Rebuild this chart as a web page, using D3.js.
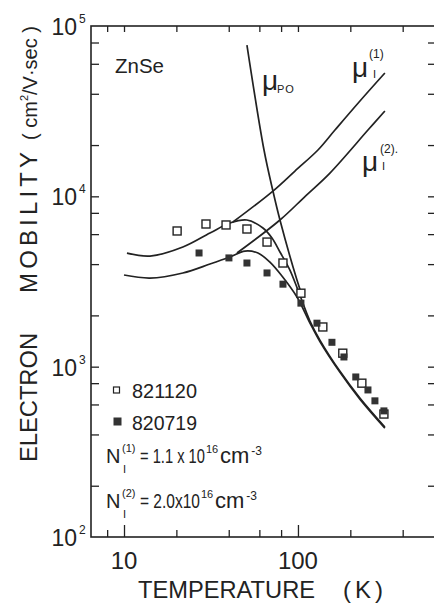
<!DOCTYPE html>
<html>
<head>
<meta charset="utf-8">
<script src="https://cdn.jsdelivr.net/npm/d3@7"></script>
<style>
  body { margin: 0; background: #fff; }
  svg { display: block; font-family: "Liberation Sans", Arial, sans-serif; }
  text { fill: #222; }
</style>
</head>
<body>
<svg id="chart" width="434" height="605"></svg>
<script>
/* global d3 */

// measured points, sample 821120 (open squares)
const tempOpen = [20.2, 29.6, 38.6, 50.9, 66.4, 82, 104, 139, 181, 233, 312];
const mobOpen = [6260, 6880, 6790, 6430, 5390, 4060, 2700, 1710, 1200, 800, 527];

// measured points, sample 820719 (filled squares)
const tempFilled = [27, 40.1, 50.9, 66.4, 82, 104, 128.6, 156.8, 183.8, 215, 252.6, 277, 312];
const mobFilled = [4650, 4350, 4060, 3550, 3050, 2360, 1800, 1390, 1140, 870, 730, 630, 550];

// calculated total mobility, N_I(1) and N_I(2)
const tempTotal1 = [10.4, 14.1, 21.8, 31.2, 40.6, 50.9, 62.9, 70.9, 78.8, 89.9, 100, 117.2, 133.7, 174, 227, 316];
const mobTotal1 = [4645, 4462, 5040, 6090, 6970, 7260, 6515, 5690, 4710, 3690, 2818, 1853, 1433, 942, 655, 442];
const tempTotal2 = [10, 14.1, 21.8, 31.2, 40.6, 49.6, 58.9, 69.0, 80.9, 98.7, 117.2, 133.7, 174, 227, 316];
const mobTotal2 = [3451, 3313, 3548, 4003, 4402, 4773, 4645, 4110, 3405, 2563, 1803, 1404, 929, 645, 436];

// ionized impurity and polar optical limits
const tempImp1 = [42.3, 71.8, 96.1, 130.3, 163.2, 227.2, 316];
const mobImp1 = [7065, 10740, 14080, 18700, 24500, 36270, 52960];
const tempImp2 = [44.6, 78.8, 109.7, 152.7, 252.6, 316];
const mobImp2 = [4645, 7260, 9972, 13700, 24500, 31690];
const tempPO = [50.9, 63.8, 71.8, 78.8, 98.7, 105.4];
const mobPO = [77300, 18700, 10740, 7260, 3224, 2633];

// ticks
const xTicks = [8, 10, 20, 40, 60, 80, 100, 200, 400];
const xMajor = [10, 100];
const xLabels = [10, 100];
const yTicks = [200, 400, 600, 800, 1000, 2000, 4000, 6000, 8000, 10000, 20000, 40000, 60000, 80000];
const yExponents = [2, 3, 4, 5];

const ink = '#222';
const svg = d3.select('#chart');

const x = d3.scaleLog().domain([6.46, 630]).range([91, 437]);
const y = d3.scaleLog().domain([100, 1e5]).range([537, 26]);

// frame
svg.append('rect')
  .attr('x', x.range()[0])
  .attr('y', y.range()[1])
  .attr('width', x.range()[1] - x.range()[0])
  .attr('height', y.range()[0] - y.range()[1])
  .attr('fill', 'none')
  .attr('stroke', ink)
  .attr('stroke-width', 1.6);

function styleTicks(g) {
  g.select('.domain').remove();
  g.selectAll('.tick line').attr('stroke', ink).attr('stroke-width', 1.3);
  g.selectAll('.tick text').remove();
}

svg.append('g')
  .attr('transform', `translate(${x.range()[0]},0)`)
  .call(d3.axisLeft(y).tickValues(yTicks).tickSize(-8))
  .call(styleTicks);

svg.append('g')
  .attr('transform', `translate(${x.range()[1]},0)`)
  .call(d3.axisRight(y).tickValues(yTicks).tickSize(-9))
  .call(styleTicks);

svg.append('g')
  .attr('transform', `translate(0,${y.range()[0]})`)
  .call(d3.axisBottom(x).tickValues(xTicks).tickSize(-7))
  .call(styleTicks)
  .selectAll('.tick line')
  .attr('y2', d => (xMajor.includes(d) ? -12 : -7));

svg.append('g')
  .attr('transform', `translate(0,${y.range()[1]})`)
  .call(d3.axisTop(x).tickValues(xTicks).tickSize(-6))
  .call(styleTicks);

// tick labels
svg.selectAll('.xlab')
  .data(xLabels)
  .enter()
  .append('text')
  .attr('class', 'xlab')
  .attr('x', d => x(d))
  .attr('y', 569)
  .attr('text-anchor', 'middle')
  .attr('font-size', 24)
  .text(d => d);

const ylab = svg.selectAll('.ylab')
  .data(yExponents)
  .enter()
  .append('g')
  .attr('class', 'ylab')
  .attr('transform', d => `translate(77,${y(10 ** d) + 9})`);
ylab.append('text')
  .attr('text-anchor', 'end')
  .attr('font-size', 23)
  .text('10');
ylab.append('text')
  .attr('x', 2)
  .attr('y', -12)
  .attr('font-size', 12)
  .text(d => d);

// axis titles
svg.append('text')
  .attr('x', 138).attr('y', 598)
  .attr('font-size', 24)
  .attr('textLength', 177).attr('lengthAdjust', 'spacingAndGlyphs')
  .text('TEMPERATURE');
svg.append('text')
  .attr('x', 343).attr('y', 598)
  .attr('font-size', 24)
  .attr('textLength', 40).attr('lengthAdjust', 'spacing')
  .text('( K )');

const ytitle = svg.append('g').attr('transform', 'translate(37,0) rotate(-90)');
ytitle.append('text')
  .attr('x', -462).attr('y', 0)
  .attr('font-size', 24)
  .attr('textLength', 129).attr('lengthAdjust', 'spacingAndGlyphs')
  .text('ELECTRON');
ytitle.append('text')
  .attr('x', -293).attr('y', 0)
  .attr('font-size', 24)
  .attr('textLength', 141).attr('lengthAdjust', 'spacing')
  .text('MOBILITY');
const unit = ytitle.append('text')
  .attr('x', -140).attr('y', 0)
  .attr('font-size', 20);
unit.append('tspan').text('( cm');
unit.append('tspan').attr('dy', -9).attr('font-size', 11).text('2');
unit.append('tspan').attr('dy', 9).text('/V·sec )');

// curves
const line = d3.line()
  .x(d => x(d[0]))
  .y(d => y(d[1]))
  .curve(d3.curveCatmullRom.alpha(0.5));

const curves = [
  d3.zip(tempTotal1, mobTotal1),
  d3.zip(tempTotal2, mobTotal2),
  d3.zip(tempImp1, mobImp1),
  d3.zip(tempImp2, mobImp2),
  d3.zip(tempPO, mobPO),
];

svg.selectAll('.curve')
  .data(curves)
  .enter()
  .append('path')
  .attr('class', 'curve')
  .attr('d', line)
  .attr('fill', 'none')
  .attr('stroke', ink)
  .attr('stroke-width', 1.7);

// data points
svg.selectAll('.open')
  .data(d3.zip(tempOpen, mobOpen))
  .enter()
  .append('rect')
  .attr('class', 'open')
  .attr('x', d => x(d[0]) - 4)
  .attr('y', d => y(d[1]) - 4)
  .attr('width', 8)
  .attr('height', 8)
  .attr('fill', '#fff')
  .attr('stroke', ink)
  .attr('stroke-width', 1.4);

svg.selectAll('.filled')
  .data(d3.zip(tempFilled, mobFilled))
  .enter()
  .append('rect')
  .attr('class', 'filled')
  .attr('x', d => x(d[0]) - 3.5)
  .attr('y', d => y(d[1]) - 3.5)
  .attr('width', 7)
  .attr('height', 7)
  .attr('fill', '#333');

// sample label
svg.append('text')
  .attr('x', 115).attr('y', 73)
  .attr('font-size', 21)
  .attr('textLength', 49).attr('lengthAdjust', 'spacingAndGlyphs')
  .text('ZnSe');

// curve labels
function muLabel(px, py, sub, sup) {
  const g = svg.append('g').attr('transform', `translate(${px},${py})`);
  g.append('text').attr('font-size', 28).text('μ');
  if (sub) {
    g.append('text').attr('x', sub.x).attr('y', sub.y)
      .attr('font-size', 11).attr('letter-spacing', 1).text(sub.t);
  }
  if (sup) {
    g.append('text').attr('x', sup.x).attr('y', sup.y)
      .attr('font-size', 12).text(sup.t);
  }
}
muLabel(262, 90, { x: 15, y: 3, t: 'PO' });
muLabel(352, 77, { x: 21, y: 1, t: 'I' }, { x: 17, y: -19, t: '(1)' });
muLabel(362, 171, { x: 20, y: -1, t: 'I' }, { x: 18, y: -18, t: '(2).' });

// legend
svg.append('rect')
  .attr('x', 113.5).attr('y', 387).attr('width', 6).attr('height', 6)
  .attr('fill', '#fff').attr('stroke', ink).attr('stroke-width', 1.2);
svg.append('rect')
  .attr('x', 113.5).attr('y', 417.5).attr('width', 8).attr('height', 8)
  .attr('fill', '#333');
svg.append('text').attr('x', 132).attr('y', 398).attr('font-size', 20)
  .attr('textLength', 65).attr('lengthAdjust', 'spacingAndGlyphs').text('821120');
svg.append('text').attr('x', 132).attr('y', 430).attr('font-size', 20)
  .attr('textLength', 65).attr('lengthAdjust', 'spacingAndGlyphs').text('820719');

// impurity concentrations (condensed via horizontal scaling)
function concLabel(by, idx, value, numEnd) {
  const g = svg.append('g');
  g.append('text').attr('x', 106).attr('y', by).attr('font-size', 20).text('N');
  g.append('text').attr('x', 122).attr('y', by - 11).attr('font-size', 11).text(`(${idx})`);
  g.append('text').attr('x', 123).attr('y', by + 10).attr('font-size', 11).text('I');
  const num = g.append('text').attr('font-size', 21).text(`= ${value}10`);
  const sx = (numEnd - 140) / num.node().getComputedTextLength();
  num.attr('transform', `translate(140,${by}) scale(${sx},1)`);
  g.append('text').attr('x', numEnd + 1).attr('y', by - 10).attr('font-size', 11).text('16');
  const cm = g.append('text').attr('x', numEnd + 15).attr('y', by).attr('font-size', 22).text('cm');
  const cmEnd = numEnd + 15 + cm.node().getComputedTextLength();
  g.append('text').attr('x', cmEnd + 2).attr('y', by - 8).attr('font-size', 12).text('-3');
}
concLabel(463, 1, '1.1 x ', 205);
concLabel(508, 2, '2.0x', 200);
</script>
</body>
</html>
